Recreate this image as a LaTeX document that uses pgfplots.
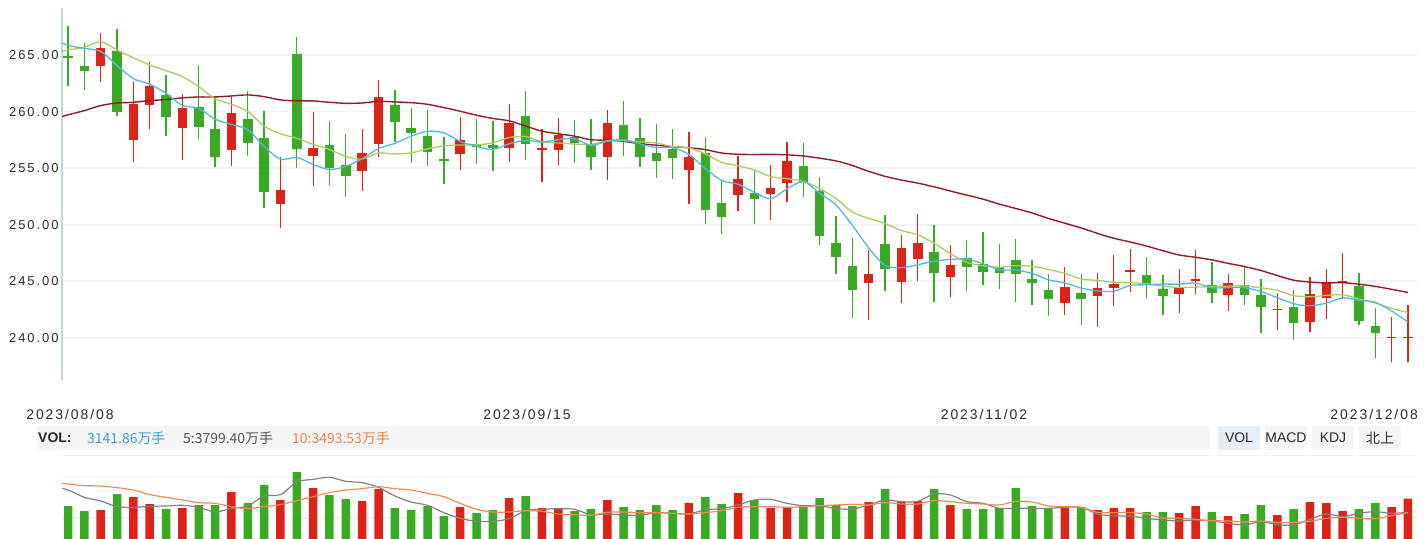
\documentclass[border=0pt]{standalone}
\usepackage{pgfplots}
\pgfplotsset{compat=1.18}
\usepackage{pgfplotstable}
\usepackage{fontspec}
\setmainfont{Liberation Sans}
\newfontfamily\cjk{Noto Sans CJK SC}
\newfontfamily\tickfont[LetterSpace=15]{Liberation Sans}
\newfontfamily\datefont[LetterSpace=14]{Liberation Sans}
\definecolor{cred}{RGB}{221,34,24}
\definecolor{cgreen}{RGB}{58,170,36}
\definecolor{cma5}{RGB}{80,185,220}
\definecolor{cma10}{RGB}{168,205,95}
\definecolor{cma30}{RGB}{150,25,40}
\definecolor{cvgray}{RGB}{130,130,130}
\definecolor{cvorange}{RGB}{240,140,80}
\definecolor{cgrid}{RGB}{241,243,246}
\definecolor{caxis}{RGB}{200,210,225}
\definecolor{cband}{RGB}{245,245,245}
\definecolor{cbtn}{RGB}{230,238,248}
\definecolor{ctext}{RGB}{40,40,40}
\definecolor{cbluetxt}{RGB}{60,160,210}
\definecolor{cgraytxt}{RGB}{85,85,85}
\definecolor{corgtxt}{RGB}{240,130,70}

\pgfplotsset{
  candle/.style={only marks, mark=*, mark size=0pt, mark options={draw=none, fill=none},
    error bars/.cd, y dir=plus, y explicit, error mark=none,
    error bar style={draw=#1}},
}

\pgfplotstableread{
i o h l c v
2 264.00 266.97 262.59 265.62 87
4 257.50 262.65 255.53 260.71 126
5 260.56 264.38 258.44 262.26 105
7 258.56 261.56 255.74 260.32 93
10 256.59 261.50 255.18 259.91 141
13 251.82 255.97 249.71 253.03 117
15 256.11 259.94 253.39 256.78 153
18 254.71 258.45 253.01 256.35 114
19 257.16 262.75 256.02 261.26 150
24 256.29 259.50 254.80 257.49 96
27 256.81 260.64 255.58 258.98 123
29 256.57 258.46 253.79 256.78 93
30 256.63 259.44 255.30 257.93 90
33 256.00 260.15 253.96 258.96 117
38 254.85 258.20 251.83 255.98 108
41 252.63 256.07 251.21 254.08 138
43 252.72 255.27 250.41 253.22 93
44 253.70 257.31 252.01 255.62 96
49 244.82 247.81 241.63 245.68 111
51 244.91 249.14 243.05 247.99 111
52 246.95 250.92 245.00 248.43 114
54 245.36 248.25 243.58 246.48 102
61 243.13 246.25 242.06 244.51 99
63 243.75 245.75 241.00 244.42 87
64 244.45 247.35 242.86 244.78 93
65 245.87 247.88 244.10 246.02 93
68 243.92 246.11 242.24 244.45 78
69 245.07 247.79 243.92 245.22 99
71 243.76 245.68 242.35 244.85 69
74 242.47 243.97 240.68 242.56 72
76 241.38 245.38 240.50 243.91 111
77 243.50 246.09 241.65 244.91 108
78 244.94 247.53 243.41 245.06 84
81 239.97 241.88 237.85 240.12 96
82 239.97 242.94 237.85 240.06 121
}\upcandles

\pgfplotstableread{
i o h l c v
0 264.94 267.59 262.24 264.74 99
1 264.06 266.06 261.94 263.56 84
3 265.38 267.29 259.59 259.94 135
6 261.50 263.24 257.82 259.50 90
8 260.44 264.15 257.59 258.62 102
9 258.50 261.38 255.09 255.97 102
11 259.38 261.85 256.12 257.21 108
12 257.71 260.09 251.47 252.88 162
14 265.12 266.61 255.06 256.73 201
16 257.05 259.15 253.48 255.00 132
17 255.29 258.01 252.43 254.27 120
20 260.56 261.87 257.34 259.09 93
21 258.54 260.29 255.50 258.13 87
22 257.84 260.12 255.23 256.46 99
23 255.82 257.75 253.57 255.67 69
25 257.11 259.36 255.38 256.90 78
26 257.02 259.15 254.71 256.75 87
28 259.62 261.83 255.74 257.16 129
31 257.72 259.26 255.47 257.22 84
32 257.04 259.35 254.85 256.00 90
34 258.79 260.95 256.09 257.51 96
35 257.63 259.44 255.12 256.00 87
36 256.30 258.91 254.14 255.65 102
37 256.66 258.46 254.05 255.92 87
39 256.30 257.75 250.06 251.30 126
40 251.89 253.93 249.17 250.68 105
42 252.78 254.82 250.06 252.28 117
45 255.18 257.22 252.46 253.79 102
46 252.96 254.20 248.20 248.99 123
47 248.43 250.74 245.62 247.13 102
48 246.39 248.79 241.80 244.20 99
50 248.34 250.83 244.11 246.07 150
53 247.63 249.98 243.22 245.71 150
55 247.10 248.70 244.11 246.24 90
56 246.52 249.35 244.72 245.87 90
57 246.28 248.32 244.37 245.78 93
58 246.87 248.76 243.22 245.69 153
59 245.22 246.87 242.95 244.90 99
60 244.25 245.66 241.98 243.48 93
62 243.98 245.66 241.18 243.48 96
66 245.55 247.17 243.57 244.81 81
67 244.34 245.58 242.06 243.75 81
70 244.68 246.74 243.06 243.97 81
72 244.68 246.32 242.88 243.76 75
73 243.79 245.21 240.41 242.71 102
75 242.74 244.26 239.79 241.29 90
79 244.62 245.76 241.12 241.47 90
80 241.09 242.68 238.21 240.41 108
}\downcandles

\pgfplotstableread{
i ma5 ma10 ma30
-1 266.50 265.15 259.33
0 265.85 265.44 259.71
1 265.59 265.68 260.09
2 265.30 266.18 260.53
3 264.06 265.44 260.76
4 262.91 264.74 260.82
5 262.42 264.12 260.97
6 261.61 263.62 261.06
7 260.55 263.09 261.21
8 260.28 262.21 261.29
9 259.33 261.12 261.29
10 258.86 260.64 261.38
11 258.41 260.01 261.47
12 256.92 258.73 261.32
13 255.80 258.04 261.03
14 255.95 257.64 260.95
15 255.33 257.10 260.94
16 254.88 256.65 260.82
17 255.16 256.04 260.73
18 255.83 255.81 260.76
19 256.73 256.34 260.91
20 257.19 256.26 260.85
21 257.82 256.35 260.79
22 258.26 256.71 260.64
23 258.12 256.97 260.35
24 257.37 257.05 260.03
25 256.93 257.06 259.68
26 256.65 257.24 259.39
27 257.16 257.71 259.18
28 257.46 257.79 258.72
29 257.31 257.34 258.27
30 257.52 257.23 258.04
31 257.61 257.13 257.83
32 257.02 257.09 257.51
33 257.38 257.42 257.48
34 257.52 257.42 257.37
35 257.14 257.33 257.16
36 256.82 257.22 257.03
37 256.81 256.91 256.89
38 256.21 256.80 256.80
39 254.97 256.25 256.64
40 253.91 255.52 256.34
41 253.59 255.21 256.23
42 252.86 254.84 256.21
43 252.31 254.26 256.22
44 253.18 254.07 256.18
45 253.80 253.85 256.08
46 252.78 253.19 255.88
47 251.75 252.31 255.64
48 249.95 251.13 255.24
49 247.96 250.57 254.72
50 246.41 250.11 254.28
51 246.21 249.50 253.95
52 246.47 249.11 253.68
53 246.78 248.36 253.35
54 246.94 247.45 252.98
55 246.97 246.69 252.62
56 246.55 246.38 252.26
57 246.02 246.25 251.82
58 246.01 246.39 251.44
59 245.70 246.32 251.04
60 245.14 246.06 250.56
61 244.87 245.71 250.14
62 244.41 245.21 249.72
63 244.16 245.09 249.24
64 244.13 244.92 248.81
65 244.64 244.89 248.48
66 244.70 244.79 248.12
67 244.76 244.58 247.71
68 244.76 244.46 247.33
69 244.85 244.49 247.13
70 244.44 244.54 246.90
71 244.45 244.58 246.59
72 244.45 244.60 246.31
73 244.10 244.43 245.96
74 243.57 244.21 245.52
75 243.03 243.74 245.11
76 242.85 243.65 244.94
77 243.08 243.76 244.86
78 243.55 243.82 244.89
79 243.33 243.45 244.75
80 243.15 243.09 244.56
81 242.39 242.62 244.30
82 241.42 242.25 244.02
}\priceMA

\pgfplotstableread{
i m5 m10
-1 160 169
0 147 165
1 125 160
2 114 159
3 97 154
4 95 147
5 98 133
6 99 125
7 101 117
8 95 109
9 81 107
10 92 97
11 99 91
12 129 97
13 133 103
14 171 115
15 179 127
16 185 139
17 173 147
18 169 151
19 155 157
20 129 151
21 111 147
22 101 137
23 79 127
24 62 107
25 53 89
26 53 81
27 61 81
28 85 85
29 89 83
30 91 75
31 89 73
32 73 71
33 75 80
34 72 81
35 71 79
36 79 79
37 77 77
38 75 75
39 88 79
40 91 85
41 102 95
42 117 97
43 119 97
44 107 95
45 100 97
46 100 100
47 91 102
48 90 104
49 102 102
50 117 109
51 112 105
52 113 105
53 135 115
54 132 112
55 112 107
56 107 105
57 92 102
58 92 113
59 92 111
60 92 99
61 95 97
62 95 95
63 75 80
64 69 79
65 69 79
66 62 75
67 57 63
68 54 62
69 57 59
70 54 55
71 47 54
72 42 51
73 52 54
74 43 49
75 42 50
76 59 53
77 75 62
78 67 65
79 77 62
80 82 61
81 77 70
82 80 79
}\volMA

\begin{document}
\begin{tikzpicture}
\path (0bp,0bp) rectangle (1424bp,539bp);

% header band
\fill[cband] (37bp,89bp) rectangle (1210bp,113bp);
\fill[cbtn] (1218bp,89bp) rectangle (1260bp,113bp);
\fill[cband] (1265bp,89bp) rectangle (1307bp,113bp);
\fill[cband] (1312bp,89bp) rectangle (1354bp,113bp);
\fill[cband] (1359bp,89bp) rectangle (1401bp,113bp);
\node[anchor=west, inner sep=0, font=\bfseries\fontsize{14}{14}\selectfont, text=ctext] at (38bp,101bp) {VOL:};
\node[anchor=west, inner sep=0, font=\cjk\fontsize{14}{14}\selectfont, text=cbluetxt] at (87bp,101bp) {3141.86万手};
\node[anchor=west, inner sep=0, font=\cjk\fontsize{14}{14}\selectfont, text=cgraytxt] at (183bp,101bp) {5:3799.40万手};
\node[anchor=west, inner sep=0, font=\cjk\fontsize{14}{14}\selectfont, text=corgtxt] at (292bp,101bp) {10:3493.53万手};
\node[inner sep=0, font=\fontsize{14}{14}\selectfont, text=ctext] at (1239bp,101bp) {VOL};
\node[inner sep=0, font=\fontsize{14}{14}\selectfont, text=ctext] at (1286bp,101bp) {MACD};
\node[inner sep=0, font=\fontsize{14}{14}\selectfont, text=ctext] at (1333bp,101bp) {KDJ};
\node[inner sep=0, font=\cjk\fontsize{14}{14}\selectfont, text=ctext] at (1380bp,101bp) {北上};

% date labels
\node[inner sep=0, font=\datefont\fontsize{14}{14}\selectfont, text=ctext] at (70bp,124bp) {2023/08/08};
\node[inner sep=0, font=\datefont\fontsize{14}{14}\selectfont, text=ctext] at (527bp,124bp) {2023/09/15};
\node[inner sep=0, font=\datefont\fontsize{14}{14}\selectfont, text=ctext] at (984bp,124bp) {2023/11/02};
\node[anchor=east, inner sep=0, font=\datefont\fontsize{14}{14}\selectfont, text=ctext] at (1418bp,124bp) {2023/12/08};

% price axis
\begin{axis}[
  at={(62bp,159bp)}, anchor=south west, scale only axis,
  width=1355bp, height=372bp,
  xmin=-0.37, xmax=82.55, ymin=236.29, ymax=269.15,
  axis x line=none, axis y line*=left,
  y axis line style={draw=caxis, line width=1.3bp},
  ytick={240,245,250,255,260,265},
  yticklabels={240.00,245.00,250.00,255.00,260.00,265.00},
  yticklabel style={font=\tickfont\fontsize{13}{13}\selectfont, text=ctext},
  ytick style={draw=none},
  ymajorgrids, major grid style={draw=cgrid, line width=1.8bp},
]
% wicks
\addplot[candle=cred, error bar style={line width=1.3bp}]
  table[x=i, y=l, y error expr=\thisrow{h}-\thisrow{l}] {\upcandles};
\addplot[candle=cgreen, error bar style={line width=1.3bp}]
  table[x=i, y=l, y error expr=\thisrow{h}-\thisrow{l}] {\downcandles};
% bodies
\addplot[candle=cred, error bar style={line width=9.5bp}]
  table[x=i, y=o, y error expr=\thisrow{c}-\thisrow{o}] {\upcandles};
\addplot[candle=cgreen, error bar style={line width=9.5bp}]
  table[x=i, y=c, y error expr=\thisrow{o}-\thisrow{c}] {\downcandles};
% moving averages
\addplot[smooth, draw=cma30, line width=1.4bp] table[x=i, y=ma30] {\priceMA};
\addplot[smooth, draw=cma10, line width=1.3bp] table[x=i, y=ma10] {\priceMA};
\addplot[smooth, draw=cma5, line width=1.3bp] table[x=i, y=ma5] {\priceMA};
\end{axis}

% volume axis
\begin{axis}[
  at={(62bp,0bp)}, anchor=south west, scale only axis,
  width=1355bp, height=83.33bp,
  xmin=-0.37, xmax=82.55, ymin=0, ymax=250,
  axis line style={draw=none},
  xtick=\empty,
  ytick={62.5,125,187.5,250}, yticklabels={,,,},
  tick style={draw=none},
  ymajorgrids, major grid style={draw=cgrid, line width=1.5bp},
]
\addplot[ybar, bar width=8.5bp, bar shift=0pt, fill=cred, draw=none] table[x=i, y=v] {\upcandles};
\addplot[ybar, bar width=8.5bp, bar shift=0pt, fill=cgreen, draw=none] table[x=i, y=v] {\downcandles};
\addplot[smooth, draw=cvgray, line width=1.2bp] table[x=i, y=m5] {\volMA};
\addplot[smooth, draw=cvorange, line width=1.2bp] table[x=i, y=m10] {\volMA};
\end{axis}
\end{tikzpicture}
\end{document}
